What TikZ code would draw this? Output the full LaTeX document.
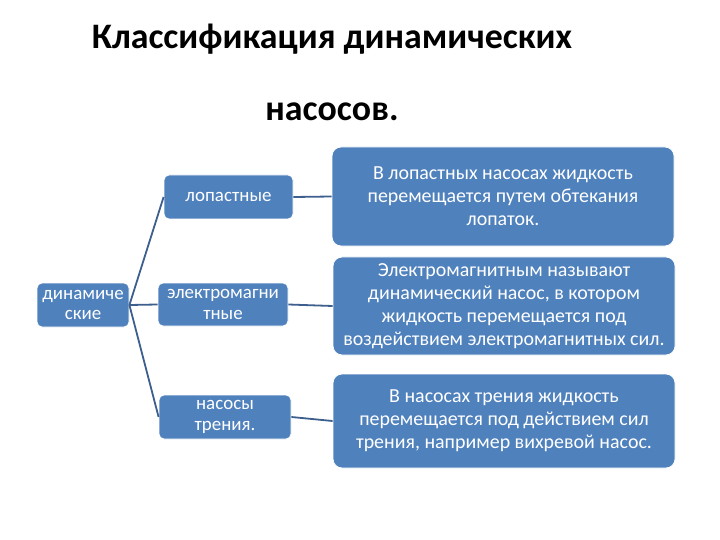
\documentclass[tikz,border=0pt]{standalone}
\usepackage{fontspec}
\setmainfont{Carlito}
\usepackage{tikz}
\usetikzlibrary{positioning}
\definecolor{boxblue}{HTML}{4F81BD}
\definecolor{linkblue}{HTML}{3D5F8E}
\tikzset{
  kind/.style={rectangle,rounded corners=5bp,fill=boxblue,draw=white,line width=0.8bp,
               text=white,align=center,inner sep=1bp,
               font=\fontsize{19}{21}\selectfont},
  note/.style={rectangle,rounded corners=9bp,fill=boxblue,draw=white,line width=0.8bp,
               text=white,align=center,inner sep=1bp,
               minimum width=342bp,
               font=\fontsize{20}{23}\selectfont},
  link/.style={linkblue,line width=1.8bp}
}

\begin{document}
\begin{tikzpicture}[x=1bp,y=-1bp]
  \useasboundingbox (0,0) rectangle (720,540);
  % heading
  \node[align=center,font=\fontsize{36}{72}\selectfont\bfseries] (title) at (332,72.5)
      {Классификация динамических\\насосов.};
  % the root and its three kinds
  \node[kind,minimum width=92bp,minimum height=44bp] (dyn) at (83,305) {динамиче\\ские};
  \node[kind,minimum width=129bp,minimum height=44bp] (lop) at (228.5,197) {лопастные};
  \node[kind,minimum width=130bp,minimum height=43bp] (elm) at (223,304.5) {электромагни\\тные};
  \node[kind,minimum width=132bp,minimum height=44bp] (tre) at (225,417) {насосы\\трения.};
  % what each kind means
  \node[note,minimum height=99bp] (dlop) at (503,196.5)
      {В лопастных насосах жидкость\\перемещается путем обтекания\\лопаток.};
  \node[note,minimum height=98bp] (delm) at (504,306)
      {Электромагнитным называют\\динамический насос, в котором\\жидкость перемещается под\\воздействием электромагнитных сил.};
  \node[note,minimum height=94bp] (dtre) at (504,421)
      {В насосах трения жидкость\\перемещается под действием сил\\трения, например вихревой насос.};
  % links
  \foreach \k in {lop,elm,tre}{
    \draw[link] (dyn.east) -- (\k.west);
  }
  \draw[link] (lop.east) -- (dlop.west);
  \draw[link] (elm.east) -- (delm.west);
  \draw[link] (tre.east) -- (dtre.west);
\end{tikzpicture}
\end{document}
